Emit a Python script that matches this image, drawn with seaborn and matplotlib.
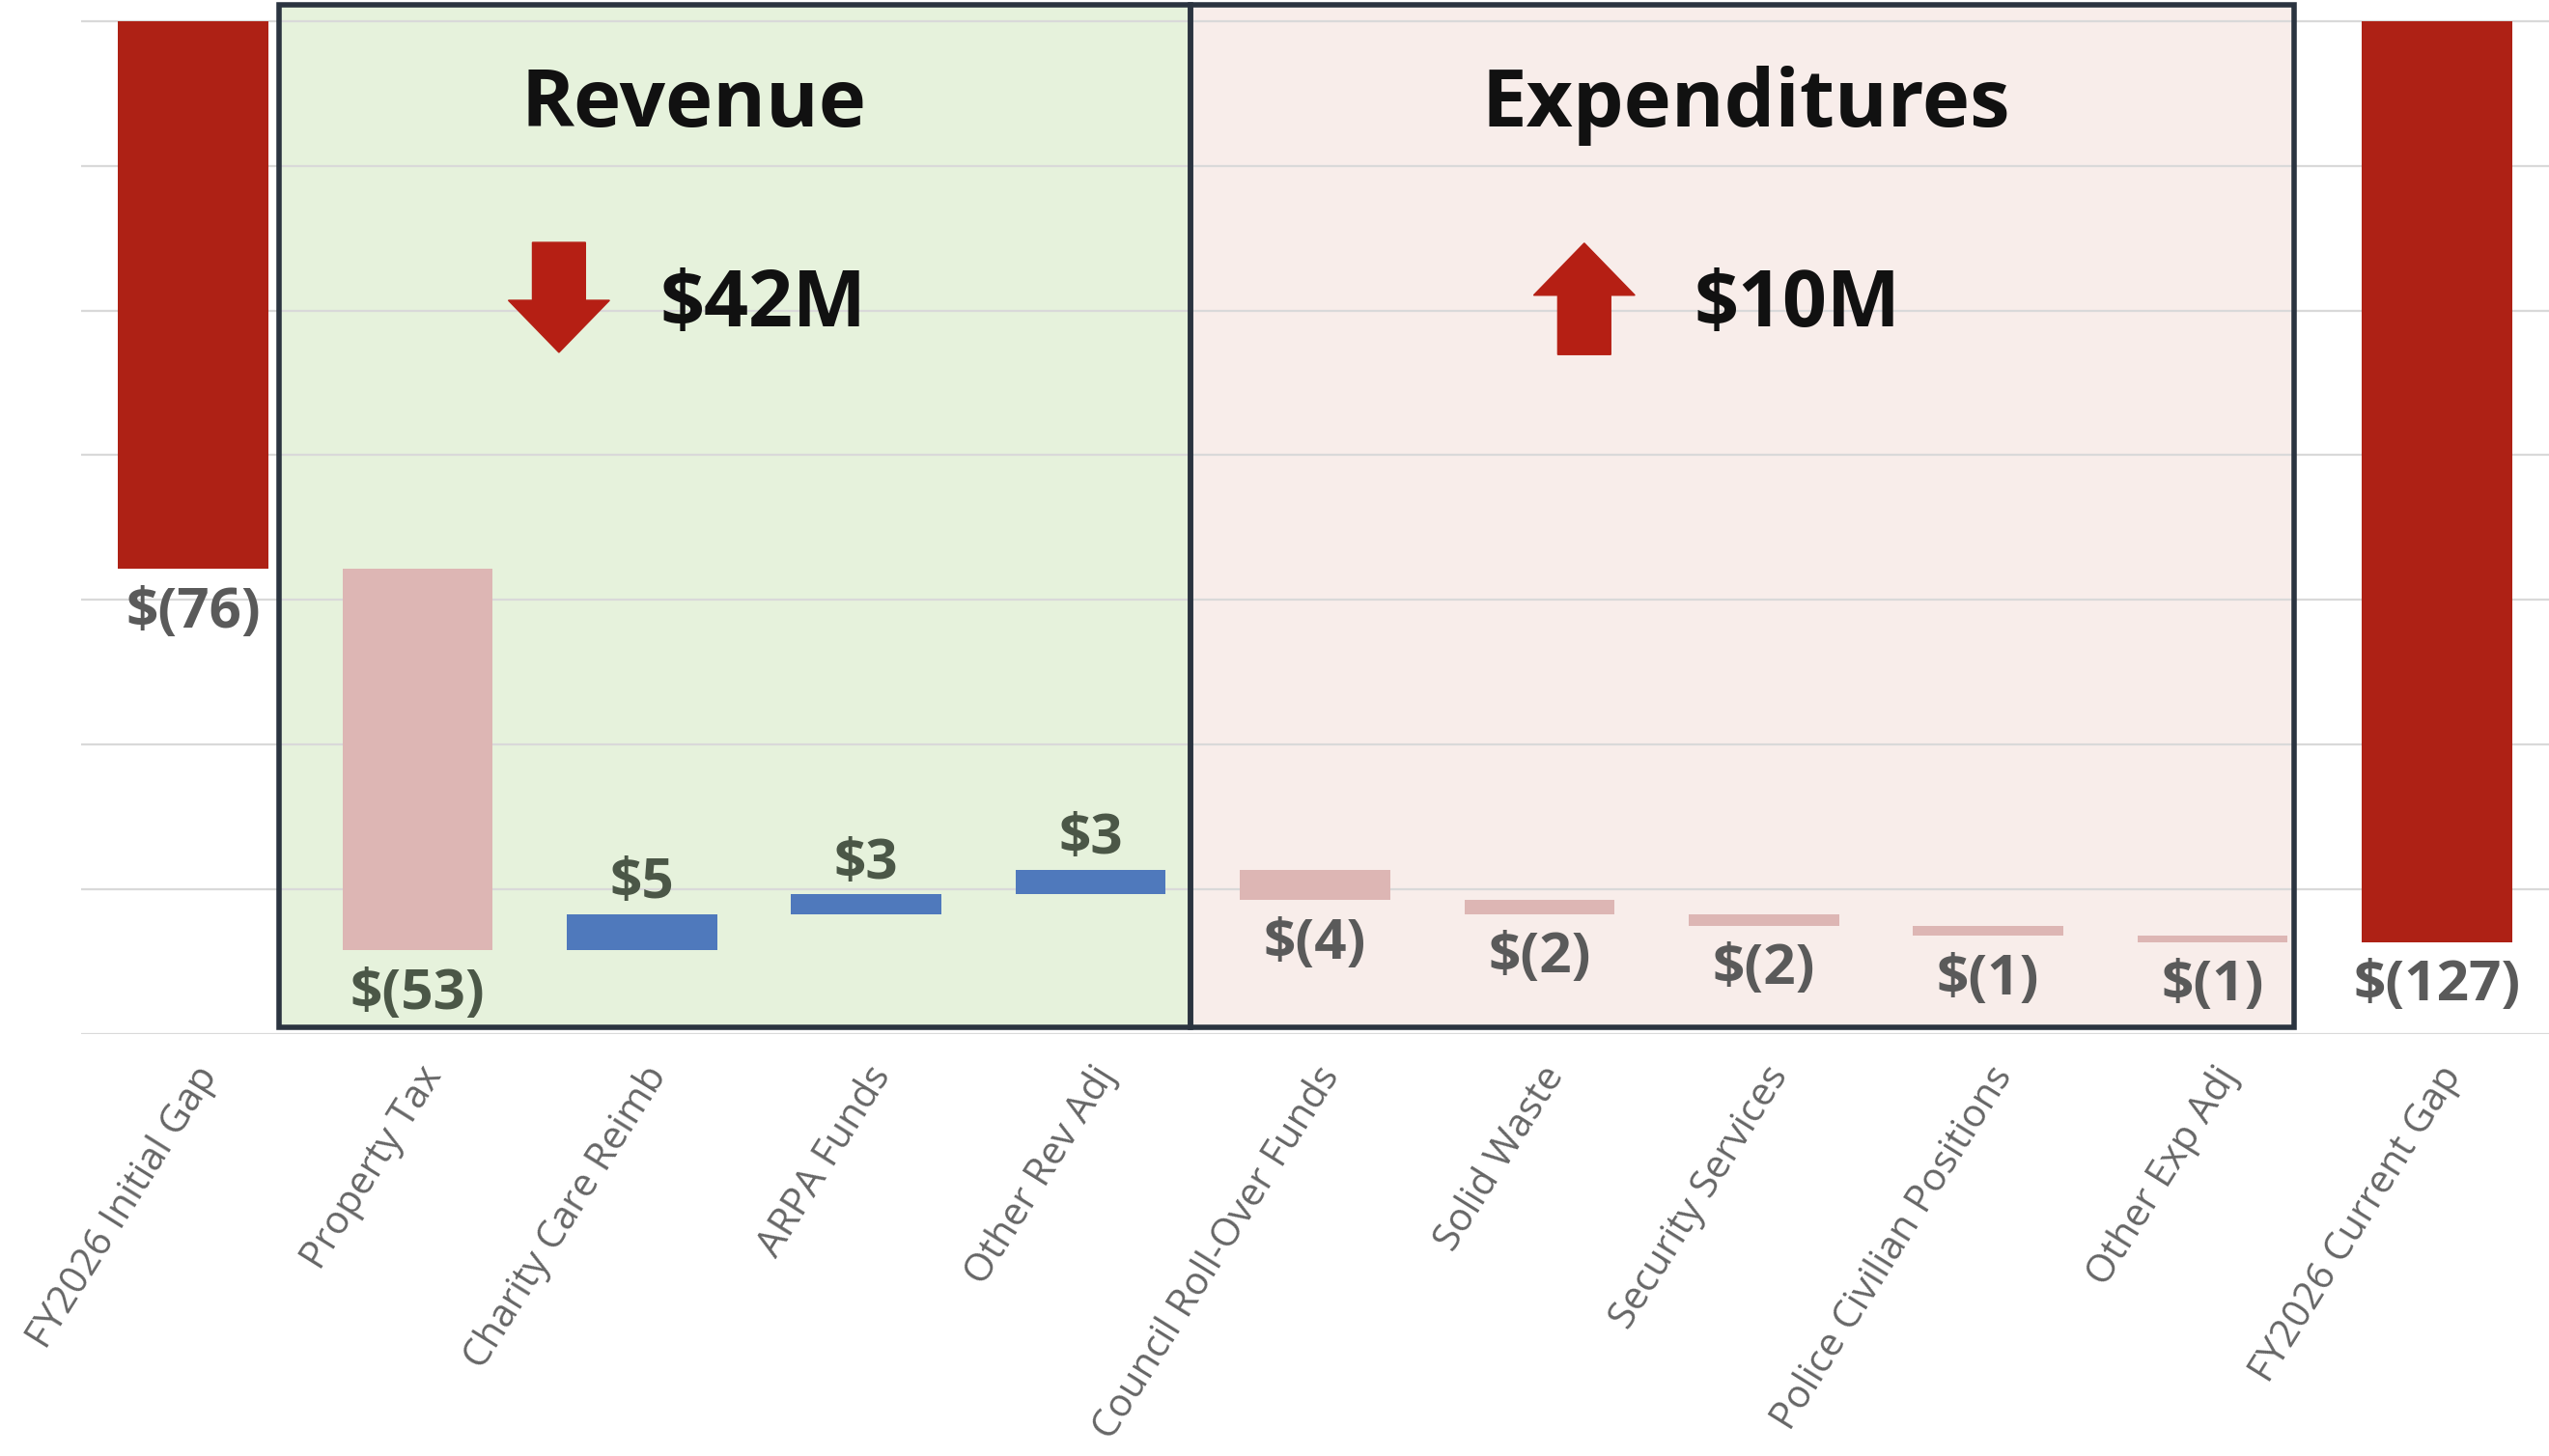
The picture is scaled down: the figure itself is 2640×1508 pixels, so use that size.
import numpy as np
import pandas as pd
import matplotlib
matplotlib.use('Agg')
import matplotlib.pyplot as plt
from matplotlib.patches import Rectangle, FancyArrow
import seaborn as sns

# Data (in $M)
categories = ['FY2026 Initial Gap', 'Property Tax', 'Charity Care Reimb', 'ARPA Funds',
              'Other Rev Adj', 'Council Roll-Over Funds', 'Solid Waste', 'Security Services',
              'Police Civilian Positions', 'Other Exp Adj', 'FY2026 Current Gap']
initial_gap = -75.7
revenue_steps = [-52.7, 5.0, 2.7, 3.4]
expense_steps = [-4.2, -1.9, -1.6, -1.4, -0.9]
kinds = ['total', 'neg', 'pos', 'pos', 'pos', 'neg', 'neg', 'neg', 'neg', 'neg', 'total']

palette = {'total': '#AE2115', 'neg': '#DDB6B4', 'pos': '#4F79BC'}

sns.set_style('white')
plt.rcParams['font.family'] = ['Open Sans', 'DejaVu Sans']

# waterfall start / end of each bar
starts, ends = [0.0], [initial_gap]
running = initial_gap
for v in revenue_steps + expense_steps:
    starts.append(running)
    running += v
    ends.append(running)
starts.append(0.0)
ends.append(running)

df = pd.DataFrame({'cat': categories,
                   'delta': np.array(ends) - np.array(starts),
                   'kind': kinds})

fig = plt.figure(figsize=(26.4, 15.08), dpi=100)
ax = fig.add_axes([0.0318, 0.2898, 0.9682, 0.7102])

sns.barplot(data=df, x='cat', y='delta', hue='kind', palette=palette, order=categories,
            hue_order=['total', 'neg', 'pos'], dodge=False, width=0.67, legend=False,
            saturation=1, linewidth=0, edgecolor='none', ax=ax, zorder=2)

# move each bar to float at its running total
for p in ax.patches:
    h = p.get_height()
    if np.isnan(h) or h == 0:
        continue
    i = int(round(p.get_x() + p.get_width() / 2))
    p.set_y(starts[i])

ax.set_xlim(-0.5, 10.5)
ax.set_ylim(-140, 2.9)
ax.set_yticks(range(-140, 1, 20))
ax.set_yticklabels([])
ax.set_ylabel('')
ax.set_xlabel('')
ax.grid(axis='y', color='#D9D9D9', linewidth=1.6, zorder=0.8)
ax.set_axisbelow(True)
for s in ax.spines.values():
    s.set_visible(False)
ax.tick_params(axis='both', length=0)
ax.tick_params(axis='x', pad=19)
for lab in ax.get_xticklabels():
    lab.set_rotation(58)
    lab.set_ha('right')
    lab.set_va('top')
    lab.set_rotation_mode('anchor')
    lab.set_fontsize(29)
    lab.set_color('#666666')

# section panels
rev_x0, rev_x1, exp_x1 = 0.383, 4.443, 9.363
panel_y0, panel_y1 = -139.1, 2.27
ax.add_patch(Rectangle((rev_x0, panel_y0), rev_x1 - rev_x0, panel_y1 - panel_y0,
                       facecolor='#E6F2DC', edgecolor='none', zorder=0.5))
ax.add_patch(Rectangle((rev_x1, panel_y0), exp_x1 - rev_x1, panel_y1 - panel_y0,
                       facecolor='#F8EDEA', edgecolor='none', zorder=0.5))
for x0, x1 in [(rev_x0, rev_x1), (rev_x1, exp_x1)]:
    ax.add_patch(Rectangle((x0, panel_y0), x1 - x0, panel_y1 - panel_y0,
                           fill=False, edgecolor='#2B3440', linewidth=4, zorder=6,
                           clip_on=False))

# value labels
for i, (s, e) in enumerate(zip(starts, ends)):
    d = e - s
    col = '#4B5747' if 1 <= i <= 4 else '#5A5A5A'
    if d > 0:
        ax.annotate(f'${abs(d):.0f}', (i, max(s, e)), xytext=(0, 2), textcoords='offset points',
                    ha='center', va='bottom', fontsize=42, fontweight='bold', color=col, zorder=4)
    else:
        ax.annotate(f'$({abs(d):.0f})', (i, min(s, e)), xytext=(0, -12), textcoords='offset points',
                    ha='center', va='top', fontsize=42, fontweight='bold', color=col, zorder=4)

# section headers
ax.text(2.23, -14.6, 'Revenue', ha='center', va='baseline', fontsize=60,
        fontweight='bold', color='#111111', zorder=7)
ax.text(6.92, -14.6, 'Expenditures', ha='center', va='baseline', fontsize=60,
        fontweight='bold', color='#111111', zorder=7)

rev_net = sum(revenue_steps)
exp_net = -sum(expense_steps)
arrow_red = '#B51F14'
ax.add_patch(FancyArrow(1.63, -30.6, 0, -15.2, width=0.236, head_width=0.451, head_length=7.2,
                        length_includes_head=True, color=arrow_red, zorder=7))
ax.text(2.08, -42.2, f'${abs(rev_net):.0f}M', ha='left', va='baseline', fontsize=58,
        fontweight='bold', color='#111111', zorder=7)
ax.add_patch(FancyArrow(6.20, -46.1, 0, 15.4, width=0.236, head_width=0.451, head_length=7.2,
                        length_includes_head=True, color=arrow_red, zorder=7))
ax.text(6.69, -42.2, f'${exp_net:.0f}M', ha='left', va='baseline', fontsize=58,
        fontweight='bold', color='#111111', zorder=7)

fig.savefig('out.png', dpi=100, facecolor='white')
